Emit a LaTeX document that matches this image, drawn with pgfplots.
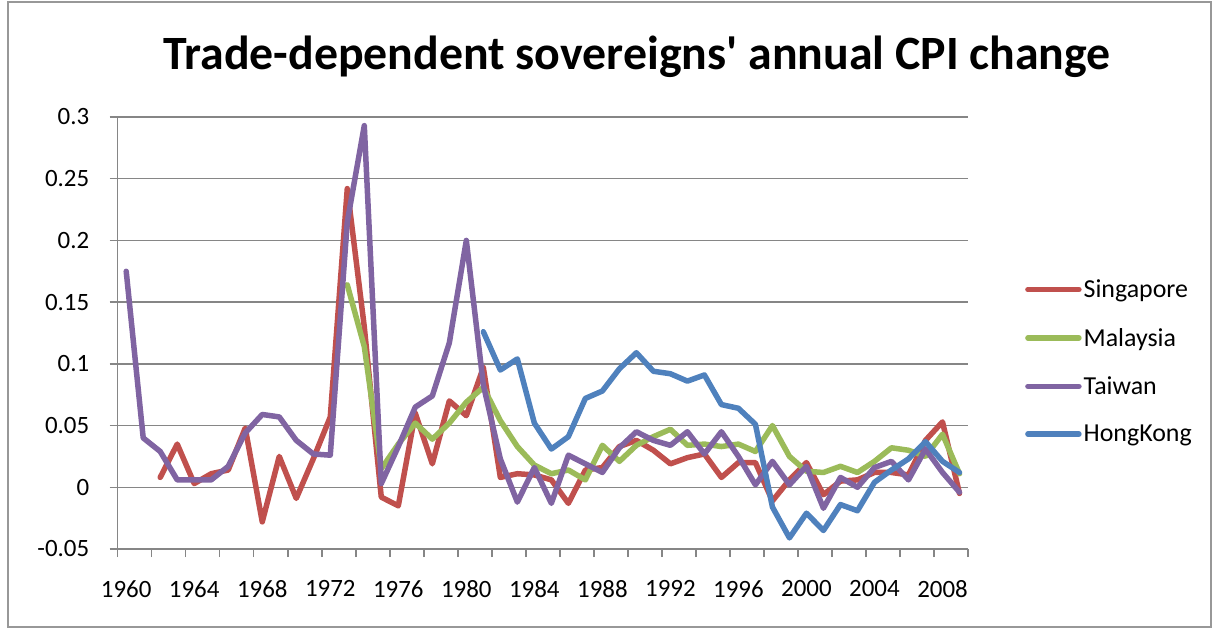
\documentclass[border=0pt]{standalone}
\usepackage{fontspec}
\setmainfont{Carlito}
\usepackage{pgfplots}
\pgfplotsset{compat=1.18}
\definecolor{sgred}{HTML}{C0504D}
\definecolor{mygreen}{HTML}{9BBB59}
\definecolor{twpurple}{HTML}{8064A2}
\definecolor{hkblue}{HTML}{4F81BD}
\definecolor{gridgray}{HTML}{868686}
\begin{document}
\begin{tikzpicture}
\useasboundingbox (0,0) rectangle (1215bp,630bp);
\draw[gridgray!85, line width=1.2bp] (8bp,3bp) rectangle (1211bp,628bp);
\node[font=\fontsize{48}{52}\selectfont\bfseries] at (637bp,573bp) {Trade-dependent sovereigns\textquotesingle{} annual CPI change};
\begin{axis}[
 at={(117.7bp,81bp)}, anchor=south west,
 scale only axis, width=850.3bp, height=432bp,
 xmin=1959.5, xmax=2009.5, ymin=-0.05, ymax=0.3,
 axis lines=left, axis line style={-, gridgray, line width=1.5bp},
 tick align=outside, major tick length=8bp,
 tick style={gridgray, line width=1.5bp},
 xtick={1959.5,1961.5,...,2009.5}, xticklabels={},
 extra x ticks={1960,1964,1968,1972,1976,1980,1984,1988,1992,1996,2000,2004,2008},
 extra x tick labels={1960,1964,1968,1972,1976,1980,1984,1988,1992,1996,2000,2004,2008},
 extra x tick style={major tick length=0pt, grid=none},
 ytick={-0.05,0,0.05,0.1,0.15,0.2,0.25,0.3},
 yticklabels={-0.05,0,0.05,0.1,0.15,0.2,0.25,0.3},
 ymajorgrids, grid style={gridgray, line width=1.5bp},
 tick label style={font=\fontsize{25}{30}\selectfont},
 xticklabel style={yshift=-28bp},
 yticklabel style={xshift=-17bp},
 every axis plot/.append style={line width=5.5bp, line join=round, line cap=round, no markers},
 legend style={at={(1.067,0.434)}, anchor=west, draw=none, fill=none,
   font=\fontsize{26}{30}\selectfont, row sep=25bp, inner sep=0pt},
 legend cell align=left,
 legend image code/.code={\draw[#1, line cap=round] (0bp,0bp) -- (51bp,0bp);},
]
\addplot[sgred] coordinates {
(1962,0.008) (1963,0.035) (1964,0.003) (1965,0.011) (1966,0.014) (1967,0.048)
(1968,-0.028) (1969,0.025) (1970,-0.009) (1971,0.023) (1972,0.057) (1973,0.242)
(1974,0.130) (1975,-0.008) (1976,-0.015) (1977,0.060) (1978,0.019) (1979,0.070)
(1980,0.058) (1981,0.097) (1982,0.008) (1983,0.011) (1984,0.010) (1985,0.006)
(1986,-0.013) (1987,0.014) (1988,0.016) (1989,0.033) (1990,0.038) (1991,0.030)
(1992,0.019) (1993,0.024) (1994,0.027) (1995,0.008) (1996,0.020) (1997,0.020)
(1998,-0.011) (1999,0.006) (2000,0.020) (2001,-0.006) (2002,0.005) (2003,0.006)
(2004,0.012) (2005,0.012) (2006,0.010) (2007,0.038) (2008,0.053) (2009,-0.005)};
\addlegendentry{Singapore}
\addplot[mygreen] coordinates {
(1973,0.164) (1974,0.114) (1975,0.015) (1976,0.035) (1977,0.052) (1978,0.039)
(1979,0.052) (1980,0.069) (1981,0.081) (1982,0.054) (1983,0.033) (1984,0.018)
(1985,0.011) (1986,0.014) (1987,0.006) (1988,0.034) (1989,0.021) (1990,0.034)
(1991,0.041) (1992,0.047) (1993,0.034) (1994,0.035) (1995,0.033) (1996,0.035)
(1997,0.029) (1998,0.050) (1999,0.025) (2000,0.013) (2001,0.012) (2002,0.017)
(2003,0.012) (2004,0.021) (2005,0.032) (2006,0.030) (2007,0.025) (2008,0.043)
(2009,0.011)};
\addlegendentry{Malaysia}
\addplot[twpurple] coordinates {
(1960,0.175) (1961,0.040) (1962,0.029) (1963,0.006) (1964,0.006) (1965,0.006)
(1966,0.017) (1967,0.044) (1968,0.059) (1969,0.057) (1970,0.038) (1971,0.027)
(1972,0.026) (1973,0.215) (1974,0.293) (1975,0.003) (1976,0.033) (1977,0.065)
(1978,0.074) (1979,0.117) (1980,0.200) (1981,0.083) (1982,0.023) (1983,-0.012)
(1984,0.016) (1985,-0.013) (1986,0.026) (1987,0.019) (1988,0.012) (1989,0.032)
(1990,0.045) (1991,0.038) (1992,0.034) (1993,0.045) (1994,0.027) (1995,0.045)
(1996,0.025) (1997,0.002) (1998,0.021) (1999,0.002) (2000,0.017) (2001,-0.017)
(2002,0.008) (2003,0.000) (2004,0.016) (2005,0.021) (2006,0.006) (2007,0.031)
(2008,0.012) (2009,-0.004)};
\addlegendentry{Taiwan}
\addplot[hkblue] coordinates {
(1981,0.126) (1982,0.095) (1983,0.104) (1984,0.052) (1985,0.031) (1986,0.041)
(1987,0.072) (1988,0.078) (1989,0.096) (1990,0.109) (1991,0.094) (1992,0.092)
(1993,0.086) (1994,0.091) (1995,0.067) (1996,0.064) (1997,0.051) (1998,-0.016)
(1999,-0.041) (2000,-0.021) (2001,-0.035) (2002,-0.014) (2003,-0.019) (2004,0.004)
(2005,0.014) (2006,0.023) (2007,0.037) (2008,0.021) (2009,0.012)};
\addlegendentry{HongKong}
\end{axis}
\end{tikzpicture}
\end{document}
